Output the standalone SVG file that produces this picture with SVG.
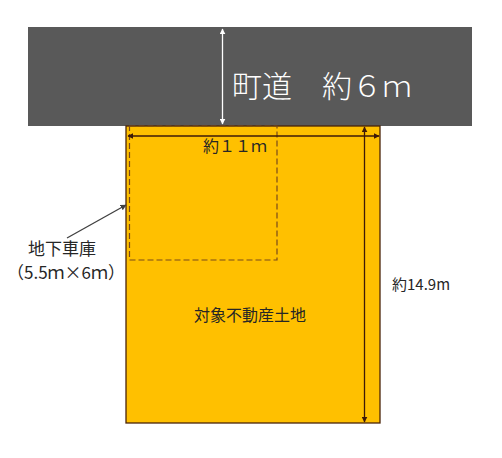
<svg xmlns="http://www.w3.org/2000/svg" width="502" height="458" viewBox="0 0 502 458">
<style>
.t{font-family:"Noto Sans CJK JP","Noto Sans",sans-serif;fill:#262626}
.dim{stroke:#3d1a08;stroke-width:1.3;fill:none}
</style>
<defs>
<marker id="ab" viewBox="0 0 10 10" refX="9" refY="5" markerWidth="6" markerHeight="6" orient="auto-start-reverse" markerUnits="userSpaceOnUse"><path d="M0,0L10,5L0,10z" fill="#3d1a08"/></marker>
<marker id="aw" viewBox="0 0 10 10" refX="9" refY="5" markerWidth="6" markerHeight="6" orient="auto-start-reverse" markerUnits="userSpaceOnUse"><path d="M0,0L10,5L0,10z" fill="#ffffff"/></marker>
<marker id="ag" viewBox="0 0 10 10" refX="9" refY="5" markerWidth="6" markerHeight="6" orient="auto" markerUnits="userSpaceOnUse"><path d="M0,0L10,5L0,10z" fill="#404040"/></marker>
</defs>
<rect width="502" height="458" fill="#ffffff"/>
<g id="road">
<rect x="28" y="27" width="444" height="99" fill="#595959"/>
<text x="232" y="97" class="t" style="fill:#ffffff;font-size:30px;font-weight:300">町道　約６ｍ</text>
</g>
<g id="lot">
<rect x="126" y="126" width="254" height="297" fill="#ffc000" stroke="#4a2408" stroke-width="1.3"/>
<text x="250" y="321" class="t" text-anchor="middle" style="font-size:16px">対象不動産土地</text>
</g>
<g id="garage">
<rect x="129.5" y="126" width="147.5" height="134" fill="none" stroke="#7a4a1a" stroke-width="1.2" stroke-dasharray="6,3"/>
</g>
<g id="labels">
<text x="235" y="152" class="t" text-anchor="middle" style="font-size:16px">約１１ｍ</text>
<text x="392" y="290" class="t" style="font-size:15px">約14.9m</text>
<text x="62" y="255" class="t" text-anchor="middle" style="font-size:17px">地下車庫</text>
<text x="66" y="279" class="t" text-anchor="middle" style="font-size:17px">（5.5ｍ×6ｍ）</text>
</g>
<g id="connectors">
<line x1="222.5" y1="29" x2="222.5" y2="124" stroke="#ffffff" stroke-width="1.3" marker-start="url(#aw)" marker-end="url(#aw)"/>
<line x1="128" y1="136" x2="379" y2="136" class="dim" marker-start="url(#ab)" marker-end="url(#ab)"/>
<line x1="364.5" y1="127" x2="364.5" y2="422" class="dim" marker-start="url(#ab)" marker-end="url(#ab)"/>
<line x1="67" y1="238" x2="126" y2="205" stroke="#404040" stroke-width="1.3" marker-end="url(#ag)"/>
</g>
</svg>
